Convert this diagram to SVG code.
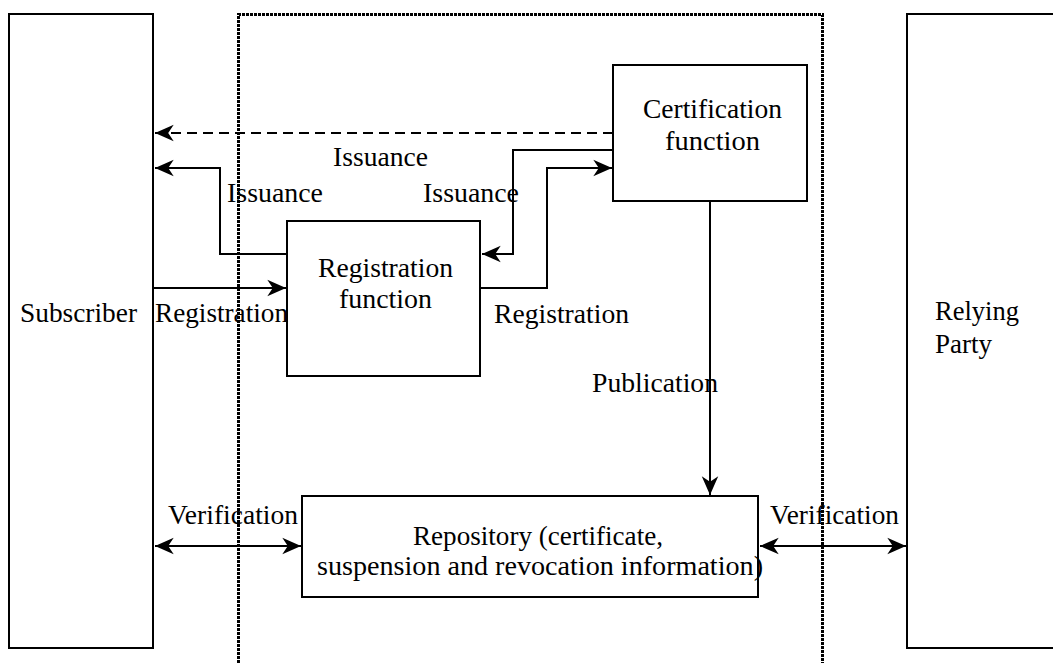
<svg xmlns="http://www.w3.org/2000/svg" width="1053" height="663" viewBox="0 0 1053 663">
  <style>
    .box { fill: #fff; stroke: #000; stroke-width: 2; }
    .line { fill: none; stroke: #000; stroke-width: 2; }
    .dash { stroke-dasharray: 10 6; }
    .bound { fill: none; stroke: #000; stroke-width: 3; stroke-dasharray: 3 1; shape-rendering: crispEdges; }
    text { font-family: "Liberation Serif", "Times New Roman", serif; font-size: 27px; fill: #000; }
    .c { text-anchor: middle; }
  </style>
  <defs>
    <marker id="arrow" markerUnits="userSpaceOnUse" markerWidth="22" markerHeight="20" viewBox="-19 -9 20 18" refX="0" refY="0" orient="auto-start-reverse">
      <path d="M0,0 L-17,-7.5 L-12,0 L-17,7.5 Z" fill="#000"/>
    </marker>
  </defs>

  <rect width="1053" height="663" fill="#fff"/>

  <!-- trusted service boundary -->
  <path id="boundary" class="bound" d="M238.5,663 V14.5 H822.5 V663"/>

  <g id="subscriber">
    <rect class="box" x="9" y="14" width="144" height="634"/>
    <text x="78.5" y="322" class="c" textLength="117" lengthAdjust="spacingAndGlyphs">Subscriber</text>
  </g>

  <g id="relying-party">
    <rect class="box" x="907" y="14" width="160" height="634"/>
    <text x="935" y="320" textLength="84" lengthAdjust="spacingAndGlyphs">Relying</text>
    <text x="935" y="353">Party</text>
  </g>

  <g id="certification-function">
    <rect class="box" x="613" y="65" width="194" height="136"/>
    <text x="712.5" y="118" class="c" textLength="139" lengthAdjust="spacingAndGlyphs">Certification</text>
    <text x="712.5" y="150" class="c" textLength="95" lengthAdjust="spacingAndGlyphs">function</text>
  </g>

  <g id="registration-function">
    <rect class="box" x="287" y="221" width="193" height="155"/>
    <text x="385.5" y="277" class="c" textLength="135" lengthAdjust="spacingAndGlyphs">Registration</text>
    <text x="385.5" y="308" class="c" textLength="93" lengthAdjust="spacingAndGlyphs">function</text>
  </g>

  <g id="repository">
    <rect class="box" x="302" y="496" width="456" height="101"/>
    <text x="538" y="545" class="c" textLength="250" lengthAdjust="spacingAndGlyphs">Repository (certificate,</text>
    <text x="540" y="575" class="c" textLength="446" lengthAdjust="spacingAndGlyphs">suspension and revocation information)</text>
  </g>

  <g id="connectors">
    <!-- certification -> subscriber (dashed issuance) -->
    <path class="line dash" d="M613,133 H155" marker-end="url(#arrow)"/>
    <!-- registration function -> subscriber (issuance) -->
    <path class="line" d="M287,254 H220 V168 H155" marker-end="url(#arrow)"/>
    <!-- subscriber -> registration function -->
    <path class="line" d="M153,288 H286" marker-end="url(#arrow)"/>
    <!-- certification -> registration function (issuance) -->
    <path class="line" d="M613,150 H513 V254 H482" marker-end="url(#arrow)"/>
    <!-- registration function -> certification (registration) -->
    <path class="line" d="M480,288 H547 V168 H612" marker-end="url(#arrow)"/>
    <!-- certification -> repository (publication) -->
    <path class="line" d="M710,201 V495" marker-end="url(#arrow)"/>
    <!-- verification, subscriber side -->
    <path class="line" d="M155,546 H301" marker-start="url(#arrow)" marker-end="url(#arrow)"/>
    <!-- verification, relying party side -->
    <path class="line" d="M760,546 H906" marker-start="url(#arrow)" marker-end="url(#arrow)"/>

    <text x="380.5" y="166" class="c" textLength="95" lengthAdjust="spacingAndGlyphs">Issuance</text>
    <text x="275" y="202" class="c" textLength="96" lengthAdjust="spacingAndGlyphs">Issuance</text>
    <text x="471" y="202" class="c" textLength="96" lengthAdjust="spacingAndGlyphs">Issuance</text>
    <text x="221.5" y="322" class="c" textLength="133" lengthAdjust="spacingAndGlyphs">Registration</text>
    <text x="561.5" y="323" class="c" textLength="135" lengthAdjust="spacingAndGlyphs">Registration</text>
    <text x="655" y="392" class="c" textLength="126" lengthAdjust="spacingAndGlyphs">Publication</text>
    <text x="233" y="524" class="c" textLength="130" lengthAdjust="spacingAndGlyphs">Verification</text>
    <text x="834.5" y="524" class="c" textLength="129" lengthAdjust="spacingAndGlyphs">Verification</text>
  </g>
</svg>
